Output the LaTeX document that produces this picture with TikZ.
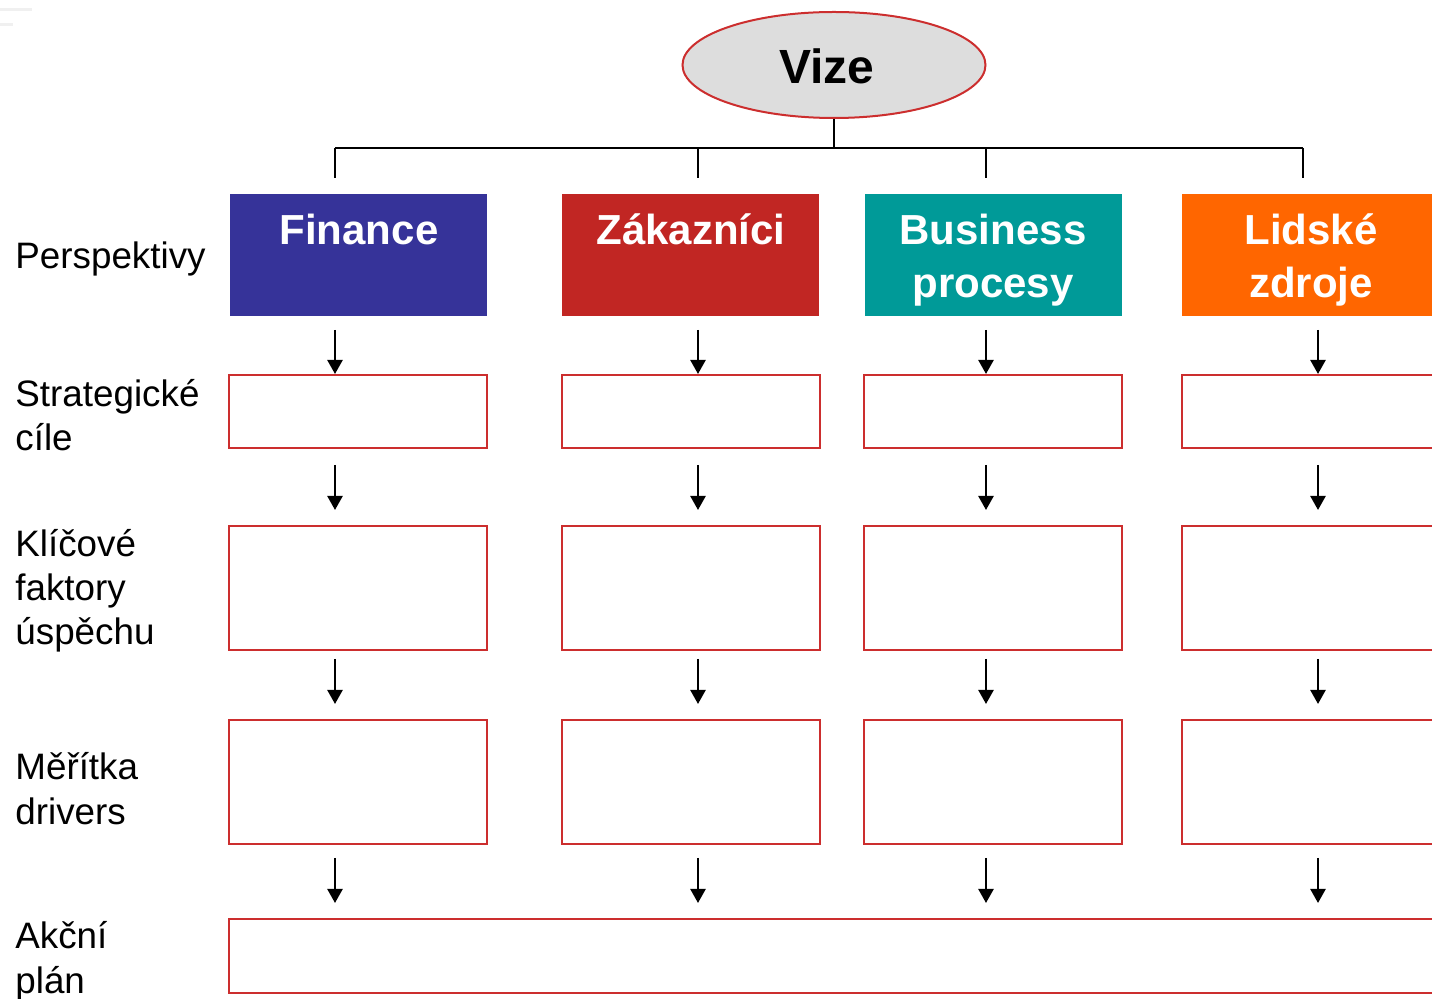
\documentclass[tikz,border=0pt]{standalone}
\usepackage{fontspec}
\setmainfont{Liberation Sans}
\usetikzlibrary{arrows.meta,shapes.geometric}
\definecolor{finblue}{HTML}{363399}
\definecolor{custred}{HTML}{C12623}
\definecolor{procteal}{HTML}{009A98}
\definecolor{hrorange}{HTML}{FF6600}
\definecolor{boxred}{HTML}{CC2E2E}
\definecolor{visgray}{HTML}{DDDDDD}
\tikzset{
  conn/.style={line width=1.2pt, draw=black},
  arr/.style={conn, -{Triangle[width=7.5pt,length=7pt]}},
  hdr/.style={rectangle, minimum width=128.5pt, minimum height=61pt, inner sep=0pt, draw=none},
  cell/.style={rectangle, draw=boxred, line width=1pt, fill=white, minimum width=129pt, inner sep=0pt},
  lbl/.style={anchor=base west, inner sep=0pt, font=\fontsize{18.4}{22}\selectfont},
  htxt/.style={anchor=base, inner sep=0pt, text=white, font=\bfseries\fontsize{21}{25}\selectfont},
}
\begin{document}
\begin{tikzpicture}[x=0.5pt,y=-0.5pt]
\useasboundingbox (0,0) rectangle (1432,999);
\clip (0,0) rectangle (1432,999);

% faint marks in the upper left corner
\draw[gray!12, line width=1.5pt] (0,10) -- (32,10);
\draw[gray!12, line width=1.5pt] (0,25) -- (13,25);

% vision
\node[ellipse, draw=boxred, line width=1pt, fill=visgray, minimum width=151.5pt, minimum height=53pt, inner sep=0pt] (vize) at (834,65) {};
\node[anchor=base, inner sep=0pt, font=\bfseries\fontsize{24}{28}\selectfont] (vizet) at (827,84) {Vize};

% tree below the vision
\coordinate (bar) at (834,148);
\coordinate (barL) at (335,148);
\coordinate (barR) at (1303,148);
\coordinate (d1) at (335,178);
\coordinate (d2) at (698,178);
\coordinate (d3) at (986,178);
\coordinate (d4) at (1303,178);
\draw[conn] (vize.south) -- (bar);
\draw[conn] (barL) -- (barR);
\draw[conn] (barL) -- (d1);
\draw[conn] (d2 |- bar) -- (d2);
\draw[conn] (d3 |- bar) -- (d3);
\draw[conn] (barR) -- (d4);

% perspective headers
\node[hdr, fill=finblue] (h1) at (358.5,255) {};
\node[hdr, fill=custred] (h2) at (690.5,255) {};
\node[hdr, fill=procteal] (h3) at (993.5,255) {};
\node[hdr, fill=hrorange] (h4) at (1310.5,255) {};
\node[htxt] (h1a) at (359,245) {Finance};
\node[htxt] (h2a) at (691,245) {Zákazníci};
\node[htxt] (h3a) at (993,245) {Business};
\node[htxt] (h3b) at (993,298) {procesy};
\node[htxt] (h4a) at (1311,245) {Lidské};
\node[htxt] (h4b) at (1311,298) {zdroje};

% empty cells
\foreach \c/\x in {1/358,2/691,3/993,4/1311}{
  \node[cell, minimum height=36.5pt] (s\c) at (\x,411.5) {};
  \node[cell, minimum height=62pt] (k\c) at (\x,588) {};
  \node[cell, minimum height=62pt] (m\c) at (\x,782) {};
}
\node[cell, minimum width=608pt, minimum height=37pt] (akce) at (837,956) {};

% arrows between levels
\foreach \c/\ax in {1/335,2/698,3/986,4/1318}{
  \coordinate (p\c) at (\ax,330);
  \coordinate (q\c) at (\ax,465);
  \coordinate (r\c) at (\ax,659);
  \coordinate (t\c) at (\ax,858);
  \draw[arr] (p\c) -- (p\c |- s\c.north);
  \draw[arr, shorten >=7.5pt] (q\c) -- (q\c |- k\c.north);
  \draw[arr, shorten >=7.5pt] (r\c) -- (r\c |- m\c.north);
  \draw[arr, shorten >=7.5pt] (t\c) -- (t\c |- akce.north);
}

% row labels
\node[lbl] (l1) at (15,269) {Perspektivy};
\node[lbl] (l2a) at (15,407) {Strategické};
\node[lbl] (l2b) at (15,451) {cíle};
\node[lbl] (l3a) at (15,557) {Klíčové};
\node[lbl] (l3b) at (15,601) {faktory};
\node[lbl] (l3c) at (15,645) {úspěchu};
\node[lbl] (l4a) at (15,780) {Měřítka};
\node[lbl] (l4b) at (15,825) {drivers};
\node[lbl] (l5a) at (15,949) {Akční};
\node[lbl] (l5b) at (15,994) {plán};
\end{tikzpicture}
\end{document}
